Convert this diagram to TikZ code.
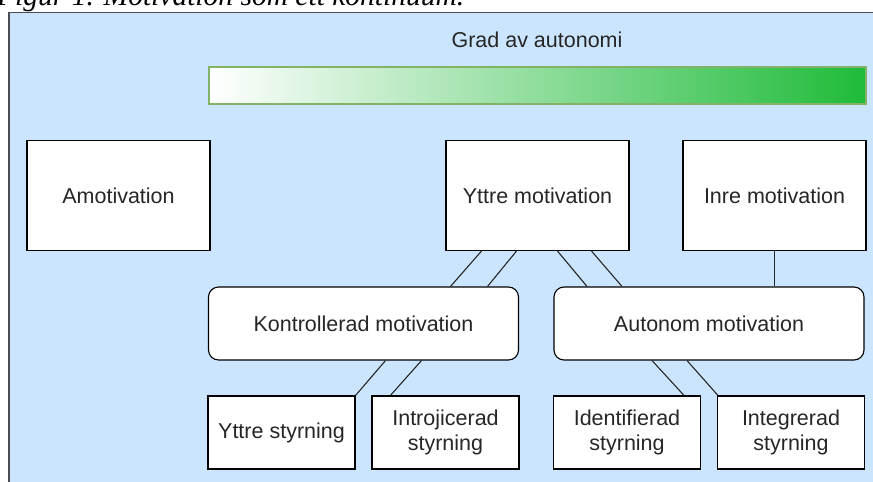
\documentclass[tikz,border=0pt]{standalone}
\usepackage{fontspec}
\setmainfont{Liberation Sans}
\newfontfamily\capfont{Liberation Serif}
\definecolor{panelblue}{HTML}{CCE5FF}
\definecolor{panelborder}{HTML}{4A4C50}
\definecolor{bargreen}{HTML}{1FBB39}
\definecolor{barborder}{HTML}{82B366}
\definecolor{txt}{HTML}{262626}
\begin{document}
\begin{tikzpicture}[x=1pt,y=-1pt,
  lbl/.style={font=\fontsize{21.5}{25}\selectfont, text=txt, align=center, inner sep=0pt},
  bigbox/.style={lbl, draw=black, line width=1.1pt, fill=white, minimum width=183pt, minimum height=110pt},
  midbox/.style={lbl, draw=black, line width=1.1pt, fill=white, rounded corners=10pt, minimum width=310pt, minimum height=73pt},
  smallbox/.style={lbl, draw=black, line width=1.1pt, fill=white, minimum width=147pt, minimum height=73pt},
  link/.style={draw=txt, line width=1.1pt}]
\useasboundingbox (0,0) rectangle (873,482);
\clip (0,0) rectangle (873,482);
\node[anchor=base west, inner sep=0pt, font=\capfont\itshape\fontsize{29.5}{34}\selectfont] (cap) at (-3,5) {Figur 1. Motivation som ett kontinuum.};
\draw[draw=panelborder, line width=1.5pt, fill=panelblue] (9,12.5) rectangle (895,500);
\node[lbl] (grad) at (537,40) {Grad av autonomi};
\node[draw=barborder, line width=1.2pt, left color=white, right color=bargreen, minimum width=657pt, minimum height=37pt, inner sep=0pt] (bar) at (537.5,85.5) {};
\node[bigbox] (amot) at (118.5,195.5) {Amotivation};
\node[bigbox] (ym) at (537.5,195.5) {Yttre motivation};
\node[bigbox] (im) at (774.5,195.5) {Inre motivation};
\node[midbox] (km) at (363.5,323.5) {Kontrollerad motivation};
\node[midbox] (am) at (709,323.5) {Autonom motivation};
\node[smallbox] (ys) at (281.5,432.5) {Yttre styrning};
\node[smallbox] (is) at (445.5,432.5) {Introjicerad\\styrning};
\node[smallbox] (ids) at (627,432.5) {Identifierad\\styrning};
\node[smallbox] (igs) at (791,432.5) {Integrerad\\styrning};
\draw[link] ([xshift=-56pt]ym.south) -- ([xshift=87pt]km.north);
\draw[link] ([xshift=-21pt]ym.south) -- ([xshift=124pt]km.north);
\draw[link] ([xshift=20pt]ym.south) -- ([xshift=-122pt]am.north);
\draw[link] ([xshift=54pt]ym.south) -- ([xshift=-87pt]am.north);
\draw[link] (im.south) -- (im.south |- am.north);
\draw[link] ([xshift=22pt]km.south) -- (ys.north east);
\draw[link] ([xshift=58pt]km.south) -- ([xshift=19pt]is.north west);
\draw[link] ([xshift=-57pt]am.south) -- ([xshift=-17pt]ids.north east);
\draw[link] ([xshift=-22pt]am.south) -- ([xshift=1pt]igs.north west);
\end{tikzpicture}
\end{document}
